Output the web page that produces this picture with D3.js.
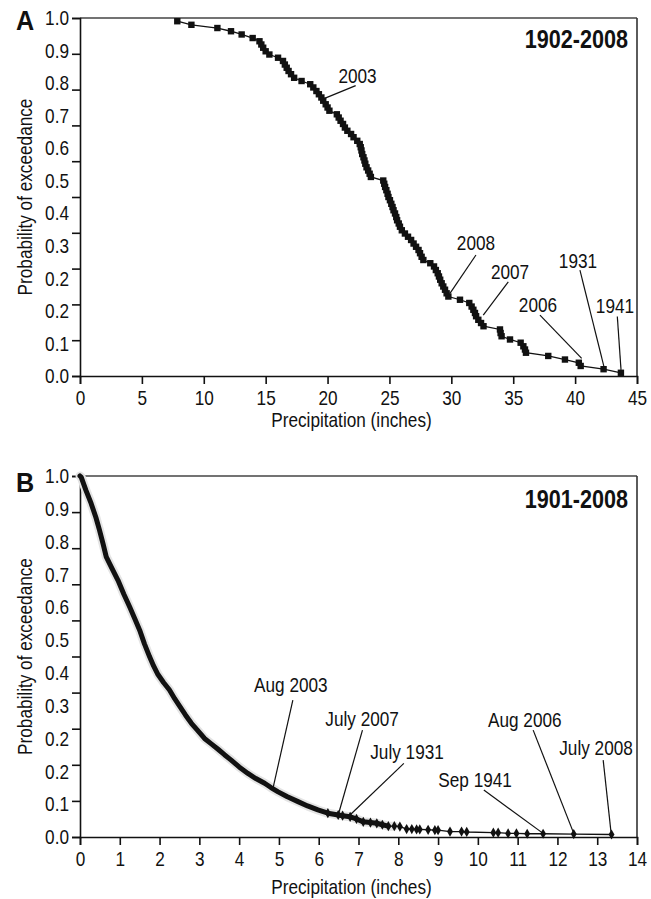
<!DOCTYPE html>
<html>
<head>
<meta charset="utf-8">
<script src="https://cdn.jsdelivr.net/npm/d3@7"></script>
<style>
  html, body { margin: 0; padding: 0; background: #fff; }
  svg { display: block; }
  text { font-family: "Liberation Sans", Arial, sans-serif; fill: #111; }
</style>
</head>
<body>
<svg id="chart" width="651" height="899"></svg>
<script>
// ---------------- DATA ----------------
// Panel A: annual precipitation (inches), 1902-2008, sorted ascending
const precipA = [7.86, 9.0, 11.1, 12.2, 13.06, 13.95, 14.5, 14.65, 14.8, 15.0,
  15.3, 16.0, 16.4, 16.55, 16.7, 16.85, 17.05, 17.3, 17.9, 18.6,
  18.85, 19.1, 19.3, 19.5, 19.65, 19.85, 20.0, 20.15, 20.75, 20.9,
  21.05, 21.25, 21.4, 21.6, 21.9, 22.1, 22.4, 22.6, 22.68, 22.74,
  22.8, 22.9, 22.98, 23.05, 23.15, 23.28, 23.4, 23.5, 24.5, 24.58,
  24.65, 24.75, 24.85, 24.92, 25.04, 25.15, 25.25, 25.33, 25.45, 25.55,
  25.62, 25.75, 25.85, 26.0, 26.25, 26.5, 26.75, 26.95, 27.15, 27.35,
  27.47, 27.6, 27.74, 28.3, 28.6, 28.75, 28.9, 29.0, 29.1, 29.22,
  29.35, 29.49, 29.62, 29.76, 30.7, 31.45, 31.64, 31.78, 31.91, 32.0,
  32.18, 32.4, 32.6, 33.93, 33.98, 34.06, 34.74, 35.6, 35.82, 35.95,
  36.03, 37.83, 39.18, 40.3, 40.45, 42.3, 43.7];
const probA = [0.991, 0.981, 0.972, 0.963, 0.954, 0.944, 0.935, 0.926, 0.917, 0.907,
  0.898, 0.889, 0.880, 0.870, 0.861, 0.852, 0.843, 0.833, 0.824, 0.815,
  0.806, 0.796, 0.787, 0.778, 0.769, 0.759, 0.750, 0.741, 0.731, 0.722,
  0.713, 0.704, 0.694, 0.685, 0.676, 0.667, 0.657, 0.648, 0.639, 0.630,
  0.620, 0.611, 0.602, 0.593, 0.583, 0.574, 0.565, 0.556, 0.546, 0.537,
  0.528, 0.519, 0.509, 0.500, 0.491, 0.481, 0.472, 0.463, 0.454, 0.444,
  0.435, 0.426, 0.417, 0.407, 0.398, 0.389, 0.380, 0.370, 0.361, 0.352,
  0.343, 0.333, 0.324, 0.315, 0.306, 0.296, 0.287, 0.278, 0.269, 0.259,
  0.250, 0.241, 0.231, 0.222, 0.213, 0.204, 0.194, 0.185, 0.176, 0.167,
  0.157, 0.148, 0.139, 0.130, 0.120, 0.111, 0.102, 0.093, 0.083, 0.074,
  0.065, 0.056, 0.046, 0.037, 0.028, 0.019, 0.009];

// Panel B: monthly precipitation (inches), 1901-2008
const precipB = [0.0, 0.03, 0.15, 0.28, 0.40, 0.49, 0.58, 0.66, 0.80, 0.955,
  1.10, 1.25, 1.38, 1.50, 1.62, 1.75, 1.85, 1.96, 2.10, 2.25,
  2.38, 2.50, 2.65, 2.80, 2.95, 3.13, 3.30, 3.47, 3.63, 3.80,
  4.00, 4.22, 4.42, 4.64, 4.80, 4.98, 5.20, 5.48, 5.72, 5.98,
  6.23, 6.49, 6.6, 6.79, 6.95, 7.12, 7.3, 7.46, 7.6, 7.75,
  7.9, 8.04, 8.21, 8.34, 8.46, 8.54, 8.75, 8.92, 9.00, 9.30,
  9.59, 9.72, 10.39, 10.51, 10.76, 10.97, 11.24, 11.64, 12.41, 13.36];
const probB = [1.000, 0.997, 0.960, 0.924, 0.885, 0.850, 0.812, 0.776, 0.745, 0.711,
  0.673, 0.637, 0.604, 0.573, 0.535, 0.499, 0.474, 0.450, 0.428, 0.407,
  0.383, 0.363, 0.338, 0.315, 0.296, 0.273, 0.258, 0.243, 0.228, 0.213,
  0.194, 0.176, 0.162, 0.149, 0.137, 0.125, 0.112, 0.098, 0.086, 0.075,
  0.066, 0.061, 0.059, 0.056, 0.050, 0.042, 0.040, 0.038, 0.034, 0.030,
  0.030, 0.029, 0.022, 0.022, 0.021, 0.021, 0.020, 0.019, 0.019, 0.015,
  0.015, 0.014, 0.012, 0.012, 0.010, 0.010, 0.009, 0.009, 0.008, 0.007];

// Tick labels (as printed in the original figure)
const yTickLabels = ["1.0", "0.9", "0.8", "0.7", "0.6", "0.5", "0.4", "0.3", "0.2", "0.2", "0.1", "0.0"];
const xTicksA = [0, 5, 10, 15, 20, 25, 30, 35, 40, 45];
const xTicksB = [0, 1, 2, 3, 4, 5, 6, 7, 8, 9, 10, 11, 12, 13, 14];
const yTickValues = [0, 0.1, 0.2, 0.3, 0.4, 0.5, 0.6, 0.7, 0.8, 0.9, 1.0];

// Annotations: label, marked point (precip, prob)
const annotLabelsA = ["2003", "2008", "2007", "2006", "1931", "1941"];
const annotPointsA = [[19.66, 0.774], [29.89, 0.231], [32.58, 0.170], [40.53, 0.049], [42.33, 0.026], [43.71, 0.017]];
const annotLabelsB = ["Aug 2003", "July 2007", "July 1931", "Sep 1941", "Aug 2006", "July 2008"];
const annotPointsB = [[4.85, 0.135], [6.49, 0.061], [6.74, 0.056], [11.64, 0.010], [12.41, 0.010], [13.35, 0.010]];

// ---------------- LAYOUT (data units of each panel) ----------------
const labelPosA = [[22.42, 0.838], [31.99, 0.372], [34.74, 0.291], [37.0, 0.198], [40.23, 0.321], [43.22, 0.196]];
const leaderStartA = [[22.27, 0.811], [31.99, 0.338], [34.6, 0.263], [37.16, 0.170], [40.39, 0.296], [43.41, 0.166]];
const labelPosB = [[5.30, 0.421], [7.09, 0.327], [8.22, 0.235], [9.93, 0.158], [11.18, 0.324], [12.97, 0.246]];
const leaderStartB = [[5.35, 0.379], [7.10, 0.296], [8.14, 0.204], [10.15, 0.130], [11.39, 0.296], [13.15, 0.213]];

const SX = 0.86; // horizontal condensation of the original's narrow type
const svg = d3.select("#chart");

function txt(g, x, y, s, o = {}) {
  const rot = o.rot ? ` rotate(${o.rot})` : "";
  return g.append("text")
    .attr("transform", `translate(${x},${y})${rot} scale(${o.sx || SX},1)`)
    .attr("text-anchor", o.anchor || "start")
    .attr("dy", o.dy || null)
    .attr("font-size", o.size || 20)
    .attr("font-weight", o.weight || null)
    .text(s);
}

function drawPanel(opts) {
  const { top, bottom, left, right, xMax, xTicks, letter, letterY, title, titleY, xTitleY } = opts;
  const x = d3.scaleLinear().domain([0, xMax]).range([left, right]);
  const y = d3.scaleLinear().domain([0, 1]).range([bottom, top]);
  const g = svg.append("g");

  // frame (top + right)
  g.append("line").attr("x1", left).attr("x2", right).attr("y1", top).attr("y2", top)
    .attr("stroke", "#444").attr("stroke-width", 1.6);
  g.append("line").attr("x1", right).attr("x2", right).attr("y1", top).attr("y2", bottom)
    .attr("stroke", "#333").attr("stroke-width", 1.6);

  // y axis: ticks at 0.1 steps, labels spread evenly as in the original
  const yAxis = d3.axisLeft(y).tickValues(yTickValues).tickFormat("").tickSizeOuter(0).tickSize(8);
  const ya = g.append("g").attr("transform", `translate(${left},0)`).call(yAxis);
  ya.selectAll("path,line").attr("stroke", "#111").attr("stroke-width", 1.6);
  const yLab = d3.scalePoint().domain(d3.range(yTickLabels.length)).range([top, bottom]);
  yTickLabels.forEach((lab, i) => txt(g, left - 11, yLab(i), lab, { anchor: "end", dy: "0.36em", size: 20 }));

  // x axis
  const xAxis = d3.axisBottom(x).tickValues(xTicks).tickFormat(d3.format("d")).tickSizeOuter(0).tickSize(8).tickPadding(7);
  const xa = g.append("g").attr("transform", `translate(0,${bottom})`).call(xAxis);
  xa.selectAll("path,line").attr("stroke", "#111").attr("stroke-width", 1.6);
  xa.selectAll("text").attr("font-size", 20).attr("fill", "#111")
    .attr("transform", `scale(${SX},1)`)
    .style("font-family", '"Liberation Sans", Arial, sans-serif');

  // axis titles
  txt(g, (left + right) / 2 - 7, xTitleY, "Precipitation (inches)", { anchor: "middle", size: 20 });
  txt(g, left - 55, (top + bottom) / 2, "Probability of exceedance", { anchor: "middle", dy: "0.36em", rot: -90, size: 20 });

  // panel letter + title
  txt(g, 16, letterY, letter, { size: 28, weight: "bold", sx: 0.9 });
  txt(g, right - 9, titleY, title, { anchor: "end", size: 26, weight: "bold", sx: 0.83 });

  return { g, x, y };
}

// ---------- Panel A ----------
const A = drawPanel({ top: 18, bottom: 376, left: 80, right: 637, xMax: 45, xTicks: xTicksA,
  letter: "A", letterY: 30, title: "1902-2008", titleY: 48, xTitleY: 427 });
const dataA = precipA.map((v, i) => [v, probA[i]]);
A.g.append("path").datum(dataA)
  .attr("d", d3.line().x(d => A.x(d[0])).y(d => A.y(d[1])))
  .attr("fill", "none").attr("stroke", "#111").attr("stroke-width", 1.3);
A.g.selectAll(".sq").data(dataA).enter().append("rect")
  .attr("x", d => A.x(d[0]) - 3.2).attr("y", d => A.y(d[1]) - 3.2)
  .attr("width", 6.4).attr("height", 6.4).attr("fill", "#111");

annotLabelsA.forEach((lab, i) => {
  A.g.append("line")
    .attr("x1", A.x(leaderStartA[i][0])).attr("y1", A.y(leaderStartA[i][1]))
    .attr("x2", A.x(annotPointsA[i][0])).attr("y2", A.y(annotPointsA[i][1]))
    .attr("stroke", "#111").attr("stroke-width", 1.2);
  txt(A.g, A.x(labelPosA[i][0]), A.y(labelPosA[i][1]), lab, { anchor: "middle", dy: "0.36em", size: 20 });
});

// ---------- Panel B ----------
const B = drawPanel({ top: 476, bottom: 837, left: 80, right: 637, xMax: 14, xTicks: xTicksB,
  letter: "B", letterY: 492, title: "1901-2008", titleY: 508, xTitleY: 894 });
const dataB = precipB.map((v, i) => [v, probB[i]]);
const lineB = d3.line().x(d => B.x(d[0])).y(d => B.y(d[1]));
// soft halo of the scanned band
B.g.append("path").datum(dataB.filter(d => d[0] <= 8.0))
  .attr("d", lineB).attr("fill", "none").attr("stroke", "#e4e4e4").attr("stroke-width", 9)
  .attr("stroke-linejoin", "round").attr("stroke-linecap", "round");
B.g.append("path").datum(dataB)
  .attr("d", lineB).attr("fill", "none").attr("stroke", "#111").attr("stroke-width", 1.4);
B.g.append("path").datum(dataB.filter(d => d[0] <= 7.8))
  .attr("d", lineB).attr("fill", "none").attr("stroke", "#111").attr("stroke-width", 5)
  .attr("stroke-linejoin", "round").attr("stroke-linecap", "round");
B.g.selectAll(".dm").data(dataB.filter(d => d[0] >= 6)).enter().append("path")
  .attr("transform", d => `translate(${B.x(d[0])},${B.y(d[1])})`)
  .attr("d", d3.symbol().type(d3.symbolDiamond).size(30)).attr("fill", "#111");

annotLabelsB.forEach((lab, i) => {
  B.g.append("line")
    .attr("x1", B.x(leaderStartB[i][0])).attr("y1", B.y(leaderStartB[i][1]))
    .attr("x2", B.x(annotPointsB[i][0])).attr("y2", B.y(annotPointsB[i][1]))
    .attr("stroke", "#111").attr("stroke-width", 1.2);
  txt(B.g, B.x(labelPosB[i][0]), B.y(labelPosB[i][1]), lab, { anchor: "middle", dy: "0.36em", size: 20 });
});
</script>
</body>
</html>
